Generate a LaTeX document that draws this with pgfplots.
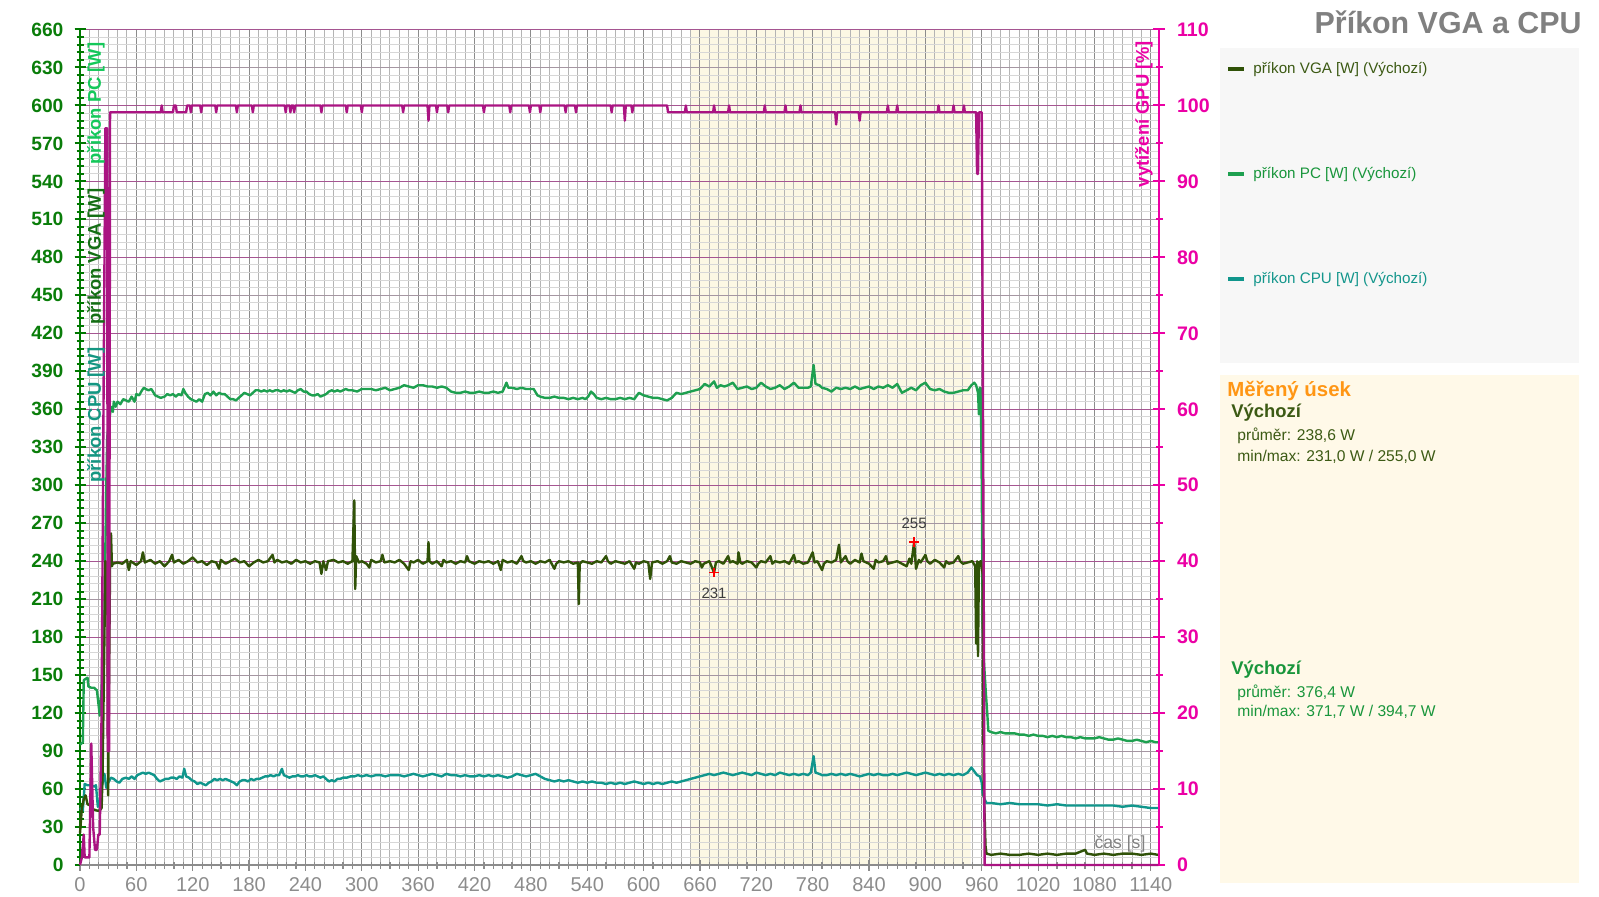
\documentclass[border=0pt]{standalone}
\usepackage{fontspec}
\setmainfont{Liberation Sans}
\usepackage{pgfplots}
\pgfplotsset{compat=1.18}
\definecolor{cVGA}{RGB}{48,82,8}
\definecolor{cPC}{RGB}{30,160,80}
\definecolor{cCPU}{RGB}{16,150,140}
\definecolor{cGPU}{RGB}{170,20,130}
\definecolor{cLeft}{RGB}{10,125,10}
\definecolor{cLeftAx}{RGB}{0,120,0}
\definecolor{cRight}{RGB}{235,0,165}
\definecolor{cXlab}{RGB}{140,140,140}
\definecolor{cCream}{RGB}{252,248,228}
\definecolor{cPanel}{RGB}{247,247,247}
\definecolor{cPanelB}{RGB}{255,249,232}
\definecolor{gMinorX}{RGB}{180,180,180}
\definecolor{gMajorX}{RGB}{140,140,140}
\definecolor{gMinorY}{RGB}{215,215,215}
\definecolor{gMajorY}{RGB}{165,150,162}
\definecolor{gPurple}{RGB}{165,85,145}
\definecolor{cOrange}{RGB}{255,150,20}
\definecolor{cTitle}{RGB}{128,128,128}
\definecolor{cPClab}{RGB}{20,200,90}
\definecolor{cVGAlab}{RGB}{20,110,20}
\definecolor{cCPUlab}{RGB}{20,150,130}
\definecolor{tVGA}{RGB}{60,90,20}
\definecolor{tPC}{RGB}{25,150,60}
\definecolor{tCPU}{RGB}{20,150,140}
\definecolor{cAnn}{RGB}{60,60,60}

\pgfplotstableread{
x y
0 25
2 45
4 52
6 55
8 48
11 47
14 44
18 43
21 43
23 45
24 70
26 180
27 240
29 238
30 55
31 150
32 238
33 262
34 236
35 238
40 239
45 238
50 241
52 233
54 240
60 237
65 240
67 247
69 239
75 241
80 238
85 240
90 236
95 240
98 245
100 239
105 241
110 238
115 240
120 243
125 239
130 240
135 237
140 240
145 239
148 234
150 241
155 238
160 240
165 242
170 239
175 240
180 236
185 239
190 241
195 239
200 240
205 245
207 239
210 241
215 239
220 240
225 238
230 241
235 239
240 240
245 238
250 240
255 239
257 230
259 240
262 233
264 240
270 241
275 239
280 240
285 238
290 240
292 288
293 218
294 244
297 239
300 240
305 238
308 235
310 241
315 239
320 240
322 245
324 239
330 240
335 239
340 241
345 238
350 233
352 240
355 239
360 241
365 238
370 240
371 255
372 240
375 238
380 240
385 236
387 241
390 239
395 240
400 238
405 240
410 239
412 244
414 240
420 238
425 240
430 239
435 240
440 238
445 240
448 233
450 241
455 239
460 240
465 238
470 244
472 240
475 239
480 240
485 238
490 240
495 239
500 241
505 234
507 238
510 240
515 239
520 240
525 238
530 239
531 206
532 238
535 240
540 239
545 238
550 240
555 239
560 244
562 240
565 238
570 240
575 239
580 238
585 240
590 234
592 239
595 238
600 240
605 239
607 226
609 239
615 240
620 238
625 240
628 244
630 239
635 238
640 240
645 239
650 238
655 240
660 239
662 235
664 238
670 240
675 231
677 239
680 240
685 238
690 244
692 239
695 240
700 238
701 247
703 239
705 238
710 240
715 239
720 235
722 238
725 240
730 239
735 244
737 238
740 240
745 239
750 240
755 238
760 245
762 239
765 240
770 238
775 239
780 247
782 239
785 240
790 233
792 238
795 240
800 239
805 241
808 253
810 239
815 244
817 240
820 238
825 241
830 239
832 246
834 240
840 238
845 234
847 241
850 239
855 240
858 244
860 238
865 239
870 240
875 238
880 236
883 242
885 238
888 255
890 234
893 241
895 239
900 245
902 240
905 238
910 241
915 239
920 235
922 240
925 238
930 239
935 244
937 240
940 238
945 239
950 240
953 236
954 175
955 240
956 165
957 239
959 240
961 230
962 60
963 40
964 15
965 9
970 8
980 9
990 8
1000 8
1010 9
1020 8
1030 9
1040 8
1050 9
1060 9
1070 12
1072 9
1080 8
1090 9
1100 8
1110 9
1120 9
1130 8
1140 9
1148 8
}\dataVGA

\pgfplotstableread{
x y
0 95
3 97
4 146
6 147
8 148
9 141
12 140
15 140
18 138
20 125
21 118
23 140
24 166
26 200
28 300
29 338
31 350
33 362
35 358
36 366
38 362
40 366
43 364
46 368
49 367
52 366
55 370
58 366
60 372
63 371
66 375
68 377
70 376
73 375
76 376
80 371
83 370
86 369
90 370
93 372
96 371
99 372
102 370
105 372
108 371
110 376
112 373
115 370
118 368
121 367
124 366
127 368
130 366
133 372
136 373
139 371
142 374
145 371
148 373
151 372
154 372
157 370
160 368
163 368
166 367
169 369
172 371
175 373
178 372
181 371
184 373
187 375
190 375
193 374
196 375
199 374
202 375
205 374
208 375
211 375
214 374
217 375
220 374
223 375
226 374
229 373
232 375
235 376
238 374
241 374
244 372
247 371
250 371
253 372
256 370
259 371
262 372
265 374
268 375
271 374
274 375
277 374
280 375
283 376
286 375
290 375
295 374
300 376
305 376
310 376
315 375
320 376
325 377
330 375
335 376
340 377
345 379
350 378
355 377
360 379
365 379
370 378
375 378
380 377
385 378
390 377
395 374
400 373
405 373
410 374
415 373
420 373
425 374
430 373
435 373
440 374
445 373
450 374
454 381
456 377
460 377
465 376
470 377
475 376
480 376
483 376
487 371
490 370
495 369
500 369
505 370
510 369
515 369
520 368
525 369
530 368
535 369
538 368
541 370
544 374
547 372
550 369
555 368
560 369
565 368
570 368
575 369
580 368
585 369
590 368
595 373
600 371
605 370
610 369
615 369
620 368
625 367
630 369
635 373
640 372
645 373
650 374
655 375
660 376
665 380
670 378
675 382
678 377
682 379
686 378
690 379
695 381
700 376
705 377
710 378
715 376
720 377
725 381
730 378
735 376
740 377
745 379
750 376
755 378
760 381
765 377
770 377
775 377
778 378
781 395
783 380
787 379
790 377
795 376
800 374
805 377
810 376
815 377
820 376
825 378
830 376
835 377
840 378
845 376
850 378
855 377
860 379
865 377
870 380
875 373
880 375
885 377
890 375
895 379
900 381
905 376
910 375
915 376
920 374
925 373
930 373
935 374
940 375
945 375
949 379
952 381
954 379
956 373
957 356
958 377
959 376
960 300
961 190
962 165
964 140
966 118
967 106
970 105
975 104
980 105
985 104
990 104
995 104
1000 103
1005 103
1010 102
1015 103
1020 102
1025 102
1030 101
1035 102
1040 101
1045 102
1050 101
1055 101
1060 100
1065 101
1070 100
1075 100
1080 100
1085 101
1090 100
1095 99
1100 99
1105 100
1110 99
1115 98
1120 98
1125 99
1130 98
1135 97
1140 98
1145 97
1148 97
}\dataPC

\pgfplotstableread{
x y
0 45
3 43
5 64
8 63
12 63
15 62
17 63
19 46
21 50
23 60
25 70
26 72
28 61
30 65
33 69
36 68
39 66
42 65
45 68
49 69
52 68
55 70
58 68
61 71
64 72
67 73
70 72
73 73
76 72
79 71
82 68
85 66
88 67
91 68
94 68
97 69
100 69
103 68
106 70
109 69
111 76
113 70
116 69
119 67
122 66
125 64
128 65
131 64
134 63
137 65
140 66
143 68
146 67
149 68
152 67
155 68
158 67
161 66
164 65
167 63
170 66
173 67
176 67
179 66
182 68
185 67
188 68
191 68
194 69
197 70
200 70
203 71
206 70
209 71
212 71
215 76
217 71
220 70
223 69
226 70
229 70
232 71
235 70
238 70
241 71
244 70
247 70
250 71
253 70
256 69
259 70
262 68
265 66
268 67
271 66
274 68
277 68
280 69
284 69
288 70
292 70
296 71
300 70
305 71
310 70
315 71
320 71
325 70
330 71
335 71
340 71
345 70
350 71
355 72
360 71
365 70
370 71
375 72
380 71
385 70
390 72
395 71
400 71
405 70
410 71
415 70
420 70
425 71
430 70
435 71
440 70
445 71
450 70
455 69
460 70
465 72
470 71
475 70
480 71
485 72
490 70
495 68
500 67
505 66
510 67
515 66
520 67
525 66
530 65
535 66
540 65
545 66
550 65
555 65
560 64
565 65
570 64
575 65
580 64
585 65
590 66
595 65
600 64
605 65
610 64
615 65
620 64
625 65
630 66
635 65
640 66
645 67
650 68
655 69
660 70
665 71
670 72
675 71
680 72
685 73
690 72
695 71
700 72
705 73
710 72
715 71
720 73
725 72
730 71
735 72
740 71
745 73
750 72
755 71
760 72
765 71
770 72
775 71
778 73
781 86
783 73
787 72
790 71
795 71
800 72
805 71
810 72
815 71
820 72
825 71
830 70
835 71
840 72
845 71
850 72
855 71
860 71
865 72
870 71
875 72
880 73
885 72
890 71
895 72
900 73
905 72
910 71
915 72
920 71
925 72
930 71
935 72
940 71
945 73
949 77
952 74
955 71
958 70
960 65
961 57
963 52
965 49
970 49
980 48
990 49
1000 48
1010 48
1020 48
1030 47
1040 48
1050 47
1060 47
1070 47
1080 47
1090 47
1100 47
1110 46
1120 47
1130 46
1140 45
1148 45
}\dataCPU

\pgfplotstableread{
x y
0 0
2 1
4 4
5 1
10 1
12 16
14 5
16 2
18 2
19.5 4
21 4
23 20
25 60
27 97
29 97
29.5 15
31 15
32 99.1
86 99.1
87 100
88 99.1
99 99.1
100 100
102 100
103 99.1
113 99.1
114 100
117 100
118 99.1
119 100
128 100
129 99.1
130 100
144 100
145 99.1
146 100
166 100
167 99.1
168 100
183 100
184 99.1
185 100
218 100
219 99.1
220 100
223 100
224 99.1
225 100
227 100
228 99.1
229 100
256 100
257 99.1
258 100
283 100
284 99.1
285 100
299 100
300 99.1
301 100
343 100
344 99.1
345 100
370 100
371 98
372 100
379 100
380 99.1
381 100
391 100
392 99.1
393 100
429 100
430 99.1
431 100
457 100
458 99.1
459 100
478 100
479 99.1
480 100
489 100
490 99.1
491 100
516 100
517 99.1
518 100
527 100
528 99.1
529 100
565 100
566 99.1
567 100
579 100
580 98
581 100
587 100
588 99.1
589 100
625 100
626 99.1
644 99.1
645 100
646 99.1
674 99.1
675 100
676 99.1
690 99.1
691 100
692 99.1
728 99.1
729 100
730 99.1
750 99.1
751 100
752 99.1
766 99.1
767 100
768 99.1
804 99.1
805 97.5
806 99.1
829 99.1
830 98
831 99.1
859 99.1
860 100
861 99.1
869 99.1
870 100
871 99.1
913 99.1
914 100
915 99.1
929 99.1
930 100
931 99.1
940 99.1
941 100
942 99.1
954 99.1
955 91
956 91
957 99.1
960 99.1
962 40
963 0
1148 0
}\dataGPU

\begin{document}
\begin{tikzpicture}
\begin{scope}[x=0.5pt,y=-0.5pt]
\fill[cPanel] (1220,48) rectangle (1579,363);
\fill[cPanelB] (1220,375) rectangle (1579,883);
\node[anchor=base east, font=\fontsize{15.2}{18}\selectfont\bfseries, text=cTitle, inner sep=0] at (1582,34) {Příkon VGA a CPU};
\draw[cVGA, line width=1.7pt] (1228,69) -- (1244,69);
\node[anchor=west, inner sep=0, text=tVGA, font=\fontsize{7.6}{9}\selectfont] at (1253,69) {příkon VGA [W] (Výchozí)};
\draw[cPC, line width=1.7pt] (1228,174) -- (1244,174);
\node[anchor=west, inner sep=0, text=tPC, font=\fontsize{7.6}{9}\selectfont] at (1253,174) {příkon PC [W] (Výchozí)};
\draw[cCPU, line width=1.7pt] (1228,279) -- (1244,279);
\node[anchor=west, inner sep=0, text=tCPU, font=\fontsize{7.6}{9}\selectfont] at (1253,279) {příkon CPU [W] (Výchozí)};
\node[anchor=base west, inner sep=0, text=cOrange, font=\fontsize{10.2}{12}\selectfont\bfseries] at (1227,397) {Měřený úsek};
\node[anchor=base west, inner sep=0, text=tVGA, font=\fontsize{9.2}{11}\selectfont\bfseries] at (1231,418) {Výchozí};
\node[anchor=base west, inner sep=0, text=tVGA, font=\fontsize{7.8}{9}\selectfont] at (1237,441) {průměr: 238,6 W};
\node[anchor=base west, inner sep=0, text=tVGA, font=\fontsize{7.8}{9}\selectfont] at (1237,461) {min/max: 231,0 W / 255,0 W};
\node[anchor=base west, inner sep=0, text=tPC, font=\fontsize{9.2}{11}\selectfont\bfseries] at (1231,674) {Výchozí};
\node[anchor=base west, inner sep=0, text=tPC, font=\fontsize{7.8}{9}\selectfont] at (1237,697) {průměr: 376,4 W};
\node[anchor=base west, inner sep=0, text=tPC, font=\fontsize{7.8}{9}\selectfont] at (1237,716) {min/max: 371,7 W / 394,7 W};
\end{scope}

% background band
\begin{axis}[at={(40pt,-432.5pt)}, anchor=south west, width=539.5pt, height=417.75pt,
  scale only axis, xmin=0, xmax=1148.7, ymin=0, ymax=660, hide axis]
\addplot[fill=cCream, draw=none] coordinates {(650,0) (650,660) (948,660) (948,0)} \closedcycle;
\end{axis}

% main axis (power)
\begin{axis}[at={(40pt,-432.5pt)}, anchor=south west, width=539.5pt, height=417.75pt,
  scale only axis, xmin=0, xmax=1148.7, ymin=0, ymax=660, clip=false,
  axis x line*=bottom, axis y line*=left,
  xtick={0,60,...,1140}, ytick={0,30,...,660},
  minor x tick num=5, minor y tick num=4,
  tick align=center, major tick length=5.5pt, minor tick length=3.5pt,
  grid=both,
  major x grid style={gMajorX, line width=0.5pt},
  minor x grid style={gMinorX, line width=0.5pt},
  major y grid style={gMajorY, line width=0.5pt},
  minor y grid style={gMinorY, line width=0.5pt},
  extra y ticks={60,120,...,660}, extra y tick labels={},
  extra y tick style={grid=major, major y grid style={gPurple, line width=0.5pt}, major grid style={gPurple, line width=0.5pt}},
  x axis line style={cXlab, line width=0.6pt},
  y axis line style={cLeftAx, line width=1pt},
  xtick style={cXlab, line width=0.6pt},
  ytick style={cLeftAx, line width=1pt},
  /pgf/number format/assume math mode=true,
  /pgf/number format/1000 sep={},
  xticklabel style={font=\fontsize{10}{12}\selectfont, text=cXlab},
  yticklabel style={font=\fontsize{9.6}{11}\selectfont\bfseries, text=cLeft, xshift=-2pt},
]
\addplot[cCPU, line width=1.2pt, line join=round] table {\dataCPU};
\addplot[cPC, line width=1.2pt, line join=round] table {\dataPC};
\addplot[cVGA, line width=1.2pt, line join=round] table {\dataVGA};
\addplot[only marks, mark=+, mark size=2.4pt, red, mark options={line width=0.9pt}] coordinates {(675,231) (888,255)};
\node[font=\fontsize{7.5}{9}\selectfont, text=cAnn] at (axis cs:675,231) [yshift=-10.5pt] {231};
\node[font=\fontsize{7.5}{9}\selectfont, text=cAnn] at (axis cs:888,255) [yshift=9.5pt] {255};
\end{axis}

% right axis (GPU load)
\begin{axis}[at={(40pt,-432.5pt)}, anchor=south west, width=539.5pt, height=417.75pt,
  scale only axis, xmin=0, xmax=1148.7, ymin=0, ymax=110, clip=false,
  axis y line*=right, axis x line=none,
  ytick={0,10,...,110}, minor y tick num=1,
  tick align=center, major tick length=6pt, minor tick length=3.5pt,
  y axis line style={cRight, line width=1pt},
  ytick style={cRight, line width=1pt},
  /pgf/number format/assume math mode=true,
  yticklabel style={font=\fontsize{9.8}{11}\selectfont\bfseries, text=cRight, xshift=2.5pt},
]
\addplot[cGPU, line width=1.2pt, line join=round] table {\dataGPU};
\end{axis}

\begin{scope}[x=0.5pt,y=-0.5pt]
\node[rotate=90, inner sep=0, font=\fontsize{9.2}{11}\selectfont\bfseries, text=cPClab] at (96,103.5) {příkon PC [W]};
\node[rotate=90, inner sep=0, font=\fontsize{9.2}{11}\selectfont\bfseries, text=cVGAlab] at (96,256.5) {příkon VGA [W]};
\node[rotate=90, inner sep=0, font=\fontsize{9.2}{11}\selectfont\bfseries, text=cCPUlab] at (96,415) {příkon CPU [W]};
\node[rotate=90, inner sep=0, font=\fontsize{9.2}{11}\selectfont\bfseries, text=cRight] at (1144,114) {vytížení GPU [\%]};
\node[inner sep=0, font=\fontsize{8.8}{10}\selectfont, text={rgb,255:red,130;green,130;blue,130}] at (1120,844) {čas [s]};
\pgfresetboundingbox
\useasboundingbox (0,0) rectangle (1599,897);
\end{scope}
\end{tikzpicture}
\end{document}
